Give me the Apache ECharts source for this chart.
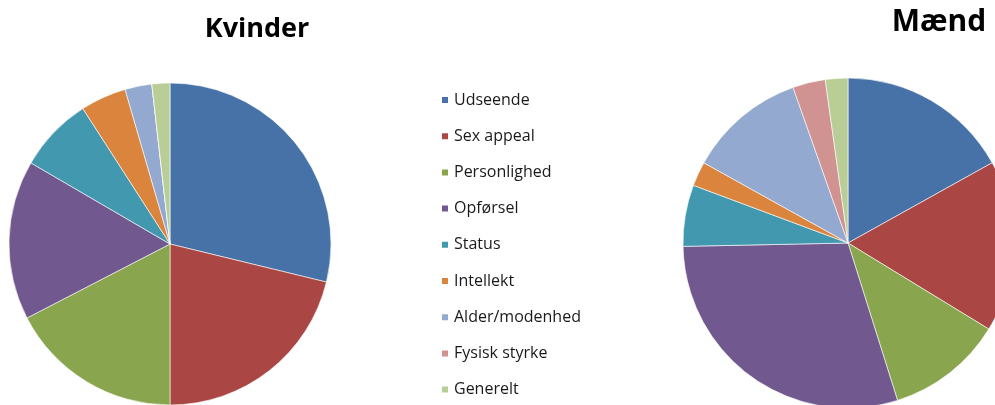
<!DOCTYPE html>
<html>
<head>
<meta charset="utf-8">
<script src="https://cdn.jsdelivr.net/npm/echarts@6/dist/echarts.min.js"></script>
<style>html,body{margin:0;padding:0;background:#fff}#c{width:995px;height:405px}</style>
</head>
<body>
<div id="c"></div>
<script>
const categories = ["Udseende","Sex appeal","Personlighed","Opførsel","Status","Intellekt","Alder/modenhed","Fysisk styrke","Generelt"];
const kvinderValues = [28.8, 21.2, 17.4, 16.0, 7.5, 4.6, 2.7, 0, 1.8];
const maendValues = [16.9, 16.8, 11.4, 29.5, 6.0, 2.4, 11.5, 3.2, 2.2];
const titles = ["Kvinder", "Mænd"];
const colors = ["#4672A8","#AA4744","#89A54E","#71588F","#4198AF","#DB843D","#93A9CF","#D19392","#B9CD96"];

const chart = echarts.init(document.getElementById('c'));
function toData(vals){ return categories.map((n,i)=>({name:n, value:vals[i]})); }
chart.setOption({
  animation:false,
  color:colors,
  title:[
    {text:titles[0], left:257, top:16, padding:0, textAlign:'center', textStyle:{fontFamily:'Open Sans', fontWeight:'bold', fontSize:27, color:'#000'}},
    {text:titles[1], left:939, top:7, padding:0, textAlign:'center', textStyle:{fontFamily:'Open Sans', fontWeight:'bold', fontSize:30, color:'#000'}}
  ],
  legend:{
    orient:'vertical', left:440, top:92, height:340, padding:0, data:categories,
    icon:'rect', itemWidth:8, itemHeight:8, itemGap:20.2,
    selectedMode:false,
    textStyle:{fontFamily:'Open Sans', fontSize:16, color:'#1a1a1a', lineHeight:16}
  },
  series:[
    {type:'pie', center:[170,244], radius:161, startAngle:90, clockwise:true, label:{show:false}, labelLine:{show:false},
     itemStyle:{borderColor:'#fff', borderWidth:0.6}, emphasis:{disabled:true}, data:toData(kvinderValues)},
    {type:'pie', center:[848,243], radius:165, startAngle:90, clockwise:true, label:{show:false}, labelLine:{show:false},
     itemStyle:{borderColor:'#fff', borderWidth:0.6}, emphasis:{disabled:true}, data:toData(maendValues)}
  ]
});
</script>
</body>
</html>
